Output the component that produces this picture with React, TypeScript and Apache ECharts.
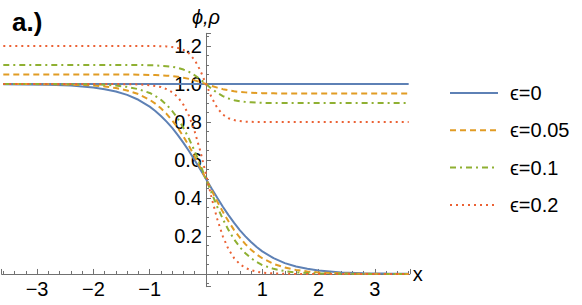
import React, { useEffect, useRef } from "react";
import * as echarts from "echarts";

// sample positions along x
const xs = [-3.6, -3.2, -2.8, -2.4, -2.0, -1.8, -1.6, -1.4, -1.2, -1.0, -0.9, -0.8, -0.7, -0.6, -0.5, -0.4, -0.3, -0.2, -0.1, 0, 0.1, 0.2, 0.3, 0.4, 0.5, 0.6, 0.7, 0.8, 0.9, 1.0, 1.2, 1.4, 1.6, 1.8, 2.0, 2.4, 2.8, 3.2, 3.6];

// epsilon = 0
const phi0X = [-3.6, 3.6];
const phi0 = [1, 1];
const rho0 = [0.999, 0.998, 0.996, 0.992, 0.982, 0.973, 0.961, 0.943, 0.917, 0.881, 0.858, 0.832, 0.802, 0.769, 0.731, 0.69, 0.646, 0.599, 0.55, 0.5, 0.45, 0.401, 0.354, 0.31, 0.269, 0.231, 0.198, 0.168, 0.142, 0.119, 0.083, 0.057, 0.039, 0.027, 0.018, 0.008, 0.004, 0.002, 0.001];
// epsilon = 0.05
const phi05 = [1.05, 1.05, 1.05, 1.05, 1.05, 1.05, 1.05, 1.05, 1.049, 1.048, 1.047, 1.046, 1.044, 1.042, 1.038, 1.033, 1.027, 1.019, 1.01, 1.0, 0.99, 0.981, 0.973, 0.967, 0.962, 0.958, 0.956, 0.954, 0.953, 0.952, 0.951, 0.95, 0.95, 0.95, 0.95, 0.95, 0.95, 0.95, 0.95];
const rho05 = [1.0, 1.0, 0.999, 0.997, 0.992, 0.987, 0.979, 0.966, 0.947, 0.917, 0.897, 0.872, 0.843, 0.808, 0.769, 0.723, 0.673, 0.618, 0.56, 0.5, 0.44, 0.382, 0.327, 0.277, 0.231, 0.192, 0.157, 0.128, 0.103, 0.083, 0.053, 0.034, 0.021, 0.013, 0.008, 0.003, 0.001, 0.0, 0.0];
// epsilon = 0.1
const phi1 = [1.1, 1.1, 1.1, 1.1, 1.1, 1.1, 1.1, 1.1, 1.1, 1.099, 1.098, 1.096, 1.094, 1.091, 1.085, 1.076, 1.064, 1.046, 1.025, 1.0, 0.975, 0.954, 0.936, 0.924, 0.915, 0.909, 0.906, 0.904, 0.902, 0.901, 0.9, 0.9, 0.9, 0.9, 0.9, 0.9, 0.9, 0.9, 0.9];
const rho1 = [1.0, 1.0, 1.0, 0.999, 0.998, 0.996, 0.992, 0.985, 0.973, 0.953, 0.937, 0.917, 0.891, 0.858, 0.818, 0.769, 0.711, 0.646, 0.574, 0.5, 0.426, 0.354, 0.289, 0.231, 0.182, 0.142, 0.109, 0.083, 0.063, 0.047, 0.027, 0.015, 0.008, 0.005, 0.003, 0.001, 0.0, 0.0, 0.0];
// epsilon = 0.2
const phi2 = [1.2, 1.2, 1.2, 1.2, 1.2, 1.2, 1.2, 1.2, 1.2, 1.2, 1.2, 1.199, 1.198, 1.195, 1.19, 1.18, 1.161, 1.126, 1.071, 1.0, 0.929, 0.874, 0.839, 0.82, 0.81, 0.805, 0.802, 0.801, 0.8, 0.8, 0.8, 0.8, 0.8, 0.8, 0.8, 0.8, 0.8, 0.8, 0.8];
const rho2 = [1.0, 1.0, 1.0, 1.0, 1.0, 1.0, 1.0, 0.999, 0.998, 0.994, 0.99, 0.984, 0.973, 0.957, 0.931, 0.891, 0.832, 0.75, 0.646, 0.525, 0.401, 0.289, 0.198, 0.13, 0.083, 0.052, 0.032, 0.02, 0.012, 0.007, 0.003, 0.001, 0.0, 0.0, 0.0, 0.0, 0.0, 0.0, 0.0];

const legendNames = ["ϵ=0", "ϵ=0.05", "ϵ=0.1", "ϵ=0.2"];
const colors = ["#5E81B5", "#E19C24", "#8FB032", "#EB6235"];

const FONT = "Liberation Sans, Arial, sans-serif";

function pairs(x: number[], y: number[]) {
  return x.map((v, i) => [v, y[i]]);
}

export default function App() {
  const ref = useRef<HTMLDivElement>(null);
  useEffect(() => {
    if (!ref.current) return;
    const chart = echarts.init(ref.current, undefined, { renderer: "svg" });
    const dashes: any[] = ["solid", [6, 4], [6, 4, 2, 4], [2, 4]];
    const curves: [number[], number[], number[], number[]][] = [
      [phi0X, phi0, xs, rho0],
      [xs, phi05, xs, rho05],
      [xs, phi1, xs, rho1],
      [xs, phi2, xs, rho2],
    ];
    const series: any[] = [];
    curves.forEach((c, i) => {
      const common = {
        type: "line",
        name: legendNames[i],
        symbol: "none",
        smooth: false,
        color: colors[i],
        lineStyle: { color: colors[i], width: 2, type: dashes[i] },
        z: 2 + i,
      };
      series.push({ ...common, data: pairs(c[0], c[1]) });
      series.push({ ...common, data: pairs(c[2], c[3]) });
    });

    const fmtX = (v: number) => {
      if (Math.abs(v - Math.round(v)) > 1e-6 || v === 0) return "";
      return v < 0 ? "\u2212" + String(-v) : String(v);
    };
    const fmtY = (v: number) => {
      if (Math.abs(v * 5 - Math.round(v * 5)) > 1e-6 || Math.abs(v) < 1e-9) return "";
      return v.toFixed(1);
    };

    const gL = 1.6, gT = 33.3, gW = 408.2, gH = 253.4;
    const xMin = -3.63, xMax = 3.62, yMin = -0.067, yMax = 1.267;
    const x0px = gL + ((0 - xMin) / (xMax - xMin)) * gW;
    const y0px = gT + ((yMax - 0) / (yMax - yMin)) * gH;

    chart.setOption({
      animation: false,
      grid: { left: gL, top: gT, width: gW, height: gH, containLabel: false, outerBoundsMode: "none" },
      title: {
        text: "a.)",
        left: 7,
        top: 4,
        textStyle: { fontFamily: FONT, fontWeight: "bold", fontSize: 26, color: "#000" },
      },
      legend: {
        data: legendNames,
        orient: "vertical",
        left: 449,
        top: 83,
        itemWidth: 48,
        itemHeight: 14,
        itemGap: 17.3,
        padding: 0,
        itemStyle: { opacity: 0 },
        textStyle: { fontFamily: FONT, fontSize: 20, lineHeight: 20, color: "#000", padding: [0, 0, 0, 7] },
      },
      xAxis: {
        type: "value",
        min: xMin,
        max: xMax,
        splitNumber: 8,
        position: "bottom",
        offset: -(gT + gH - y0px),
        name: "x",
        nameLocation: "end",
        nameGap: 3,
        nameTextStyle: { fontFamily: FONT, fontSize: 20, color: "#000" },
        axisLine: { onZero: false, lineStyle: { color: "#707070", width: 1 } },
        axisTick: { inside: true, length: 5, lineStyle: { color: "#707070" } },
        minorTick: { show: true, splitNumber: 5, length: 3, lineStyle: { color: "#707070" } },
        axisLabel: {
          formatter: fmtX,
          showMinLabel: false,
          showMaxLabel: false,
          margin: 5,
          fontFamily: FONT,
          fontSize: 20,
          color: "#000",
        },
        splitLine: { show: false },
      },
      yAxis: {
        type: "value",
        min: yMin,
        max: yMax,
        splitNumber: 7,
        position: "left",
        offset: -(x0px - gL),
        name: "ϕ,ρ",
        nameLocation: "end",
        nameGap: 6,
        nameTextStyle: { fontFamily: FONT, fontSize: 20, fontStyle: "italic", color: "#000", align: "center" },
        axisLine: { onZero: false, lineStyle: { color: "#707070", width: 1 } },
        axisTick: { inside: true, length: 5, lineStyle: { color: "#707070" } },
        minorTick: { show: true, splitNumber: 4, length: 3, lineStyle: { color: "#707070" } },
        axisLabel: {
          formatter: fmtY,
          showMinLabel: false,
          showMaxLabel: false,
          margin: 4,
          fontFamily: FONT,
          fontSize: 20,
          color: "#000",
        },
        splitLine: { show: false },
      },
      series,
    });
    return () => chart.dispose();
  }, []);
  return <div ref={ref} style={{ position: "fixed", left: 0, top: 0, width: 582, height: 305, background: "#fff" }} />;
}
